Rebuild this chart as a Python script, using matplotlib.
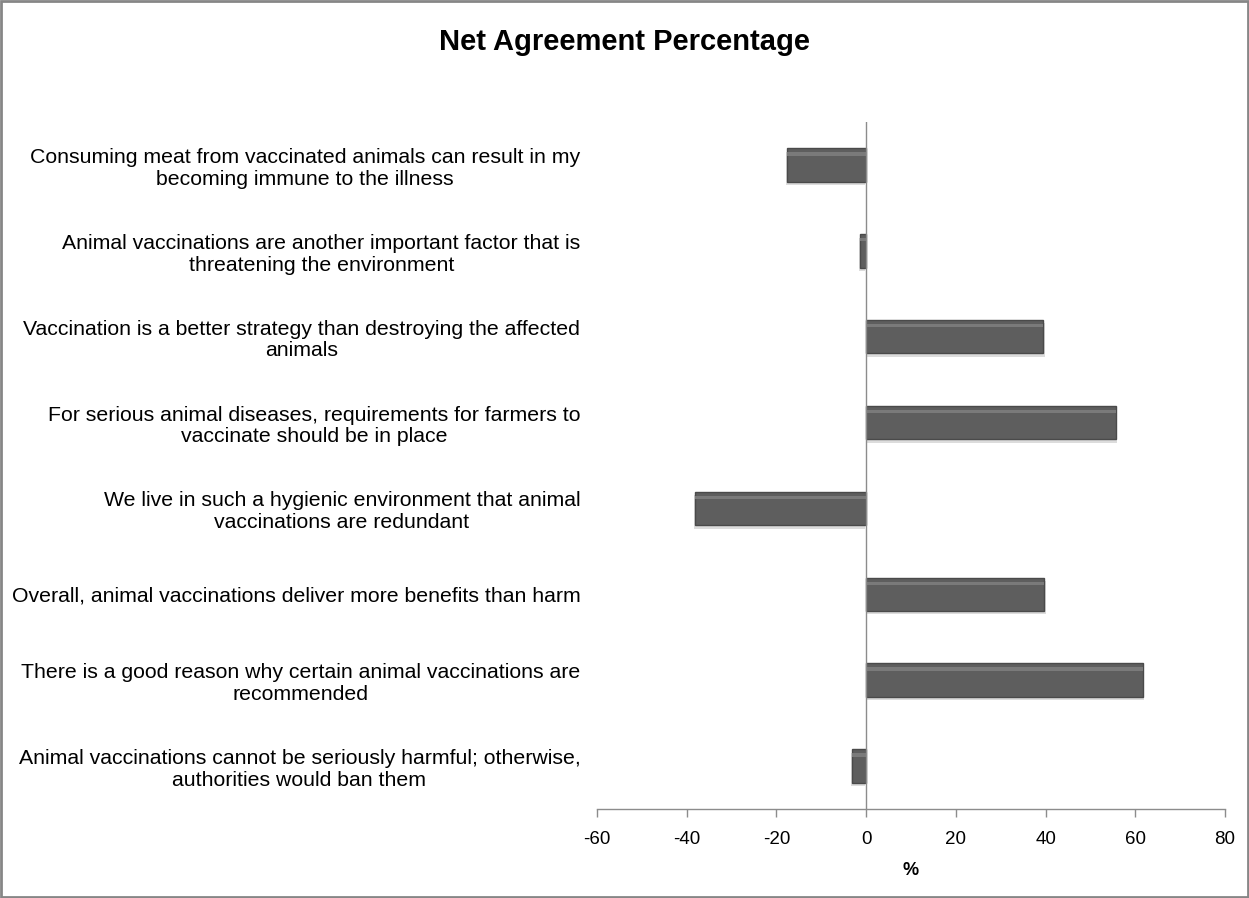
import matplotlib.pyplot as plt
from matplotlib.patches import Rectangle

# * data (top to bottom):
statements = [
    'Consuming meat from vaccinated animals can result in my\nbecoming immune to the illness',
    'Animal vaccinations are another important factor that is\nthreatening the environment',
    'Vaccination is a better strategy than destroying the affected\nanimals',
    'For serious animal diseases, requirements for farmers to\nvaccinate should be in place',
    'We live in such a hygienic environment that animal\nvaccinations are redundant',
    'Overall, animal vaccinations deliver more benefits than harm',
    'There is a good reason why certain animal vaccinations are\nrecommended',
    'Animal vaccinations cannot be seriously harmful; otherwise,\nauthorities would ban them',
]
net_agreement = [-17.6, -1.3, 39.5, 55.7, -38.1, 39.7, 61.7, -3.1]
x_ticks = [-60, -40, -20, 0, 20, 40, 60, 80]

# fonts
font_label = ['Liberation Sans', 'DejaVu Sans']
font_title = ['Liberation Sans', 'DejaVu Sans']
axis_grey = '#8c8c8c'
bar_color = '#5e5e5e'

fig = plt.figure(figsize=(12.49, 8.98), dpi=100)
ax = fig.add_axes([597 / 1249, 1 - 809 / 898, 628 / 1249, 687 / 898])

ypos = list(range(len(statements)))
bar_h = 0.39

# soft shadow, bar body, bevel highlight
ax.barh([y + 0.04 for y in ypos], net_agreement, height=bar_h,
        color='#dcdcdc', left=[0.3 if v > 0 else -0.3 for v in net_agreement],
        zorder=1)
ax.barh(ypos, net_agreement, height=bar_h, color=bar_color,
        edgecolor='#4a4a4a', linewidth=1.0, zorder=2)
ax.barh([y - bar_h * 0.33 for y in ypos], net_agreement, height=bar_h * 0.10,
        color='#7a7a7a', linewidth=0, zorder=3)

ax.axvline(0, color=axis_grey, linewidth=1.0, zorder=4)

ax.set_xlim(-60, 80)
ax.set_ylim(len(statements) - 0.5, -0.5)
ax.set_xticks(x_ticks)
ax.set_xticklabels([str(t) for t in x_ticks], fontfamily=font_title,
                   fontsize=13.5)
ax.set_yticks(ypos)
ax.set_yticklabels(statements, fontfamily=font_label, fontsize=15.3,
                   multialignment='center', linespacing=1.18)
ax.tick_params(axis='y', length=0, pad=12)
ax.tick_params(axis='x', direction='out', length=6, width=1.0,
               color=axis_grey, pad=10)

for side in ['top', 'right', 'left']:
    ax.spines[side].set_visible(False)
ax.spines['bottom'].set_color(axis_grey)
ax.spines['bottom'].set_linewidth(1.0)

ax.set_xlabel('%', fontfamily=font_title, fontweight='bold', fontsize=13,
              labelpad=10)

fig.text(0.5, 1 - 42 / 898, 'Net Agreement Percentage', ha='center',
         va='center', fontfamily=font_title, fontweight='bold', fontsize=21)

# chart area border
fig.patches.append(Rectangle((0.001, 0.001), 0.998, 0.998,
                             transform=fig.transFigure, fill=False,
                             edgecolor='#868686', linewidth=2.0))

plt.savefig('out.png', dpi=100)
